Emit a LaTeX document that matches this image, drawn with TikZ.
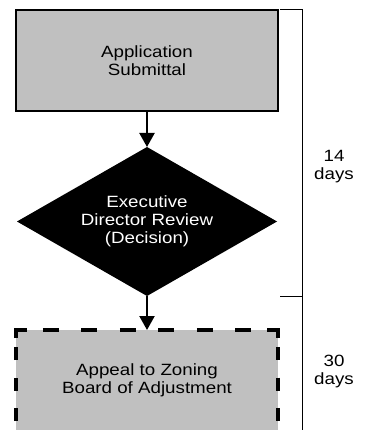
\documentclass[tikz,border=0pt]{standalone}
\usepackage{fontspec}
\setmainfont[FakeStretch=1.15]{Liberation Sans}
\usetikzlibrary{shapes.geometric,arrows.meta}
\definecolor{boxgray}{HTML}{C0C0C0}
\tikzset{
  txt/.style={font=\fontsize{16.3}{18}\selectfont, align=center},
  procbox/.style={rectangle, draw=black, line width=2.5pt, fill=boxgray,
    minimum width=262pt, minimum height=101pt, inner sep=0pt, outer sep=0pt, txt},
  decision/.style={diamond, aspect=1.745, fill=black, text=white, minimum width=260pt,
    minimum height=149pt, inner sep=0pt, outer sep=0pt, txt},
  appealbox/.style={rectangle, fill=boxgray, minimum width=262pt,
    minimum height=101pt, inner sep=0pt, outer sep=0pt, txt},
  flow/.style={line width=2.2pt, -{Triangle[width=15pt,length=14pt]}},
  bracket/.style={line width=1pt},
  dayslabel/.style={txt},
  appealborder/.style={line width=3.5pt, line join=miter,
    dash pattern=on 0pt off 10pt on 13pt off 17.5pt on 13pt off 17.5pt on 13pt off 9pt on 19pt off 15.75pt on 16pt off 22.5pt on 16pt off 22.5pt on 16pt off 22.5pt on 16pt off 22.5pt on 16pt off 22.5pt on 16pt off 15.75pt on 19pt off 9pt on 13pt off 17.5pt on 13pt off 17.5pt on 13pt off 10pt}
}
\begin{document}
\begin{tikzpicture}[x=1pt,y=1pt]
\useasboundingbox (0,0) rectangle (366,-430);
\clip (0,0) rectangle (366,-430);
\fill[white] (0,0) rectangle (366,-430);

\node[procbox] (b1) at (147,-60.5) {Application\\Submittal};
\node[decision] (d) at (147,-221.5) {Executive\\Director Review\\(Decision)};
\node[appealbox] (b2) at (147,-380.5) {Appeal to Zoning\\Board of Adjustment};
\draw[appealborder] (b2.south west) -- (b2.north west) -- (b2.north east) -- (b2.south east);

\draw[flow] (b1.south) -- (d.north);
\draw[flow] (d.south) -- (b2.north);

\coordinate (brtop) at (280,-10);
\coordinate (brtopc) at (302,-10);
\coordinate (brmid) at (280,-296);
\coordinate (brmidc) at (302,-296);
\coordinate (brbot) at (302,-440);
\draw[bracket] (brtop) -- (brtopc) -- (brbot);
\draw[bracket] (brmid) -- (brmidc);

\node[dayslabel] (l14) at (334,-166.5) {14\\days};
\node[dayslabel] (l30) at (334,-371) {30\\days};
\end{tikzpicture}
\end{document}
